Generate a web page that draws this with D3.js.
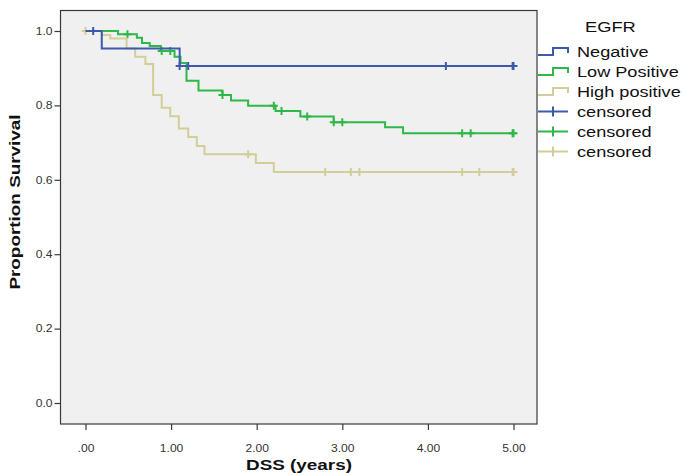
<!DOCTYPE html>
<html>
<head>
<meta charset="utf-8">
<script src="https://cdn.jsdelivr.net/npm/d3@7"></script>
<style>
  html, body { margin: 0; padding: 0; background: #ffffff; }
  svg { display: block; }
  text { font-family: "Liberation Sans", Arial, sans-serif; }
</style>
</head>
<body>
<svg id="chart" width="684" height="473"></svg>
<script>
// ---- data ----
const groups = ["Negative", "Low Positive", "High positive"];
const legendTitle = "EGFR";
const censorLabel = "censored";

// step functions: [time (years), proportion surviving after the event]
const negativeSteps = [[0, 1.0], [0.19, 0.953], [1.10, 0.906]];
const negativeCensored = [0.09, 1.10, 1.20, 4.21, 4.99, 5.0];

const lowSteps = [[0, 1.0], [0.38, 0.991], [0.60, 0.982], [0.66, 0.968], [0.75, 0.960],
  [0.88, 0.946], [1.04, 0.931], [1.11, 0.914], [1.18, 0.866], [1.32, 0.840],
  [1.60, 0.828], [1.70, 0.813], [1.90, 0.799], [2.22, 0.785], [2.51, 0.770],
  [2.90, 0.755], [3.50, 0.741], [3.71, 0.725]];
const lowCensored = [0.49, 0.89, 0.99, 1.60, 2.20, 2.29, 2.59, 2.90, 3.00, 4.40, 4.50, 4.99, 5.0];

const highSteps = [[0, 1.0], [0.19, 0.989], [0.29, 0.980], [0.48, 0.953], [0.58, 0.931],
  [0.70, 0.911], [0.79, 0.828], [0.89, 0.794], [0.99, 0.771], [1.09, 0.738],
  [1.20, 0.715], [1.30, 0.691], [1.39, 0.669], [1.99, 0.645], [2.20, 0.621]];
const highCensored = [0.0, 1.90, 2.80, 3.10, 3.20, 4.40, 4.60, 4.99, 5.0];

const xTickValues = [0, 1, 2, 3, 4, 5];
const xTickLabels = [".00", "1.00", "2.00", "3.00", "4.00", "5.00"];
const yTickValues = [0, 0.2, 0.4, 0.6, 0.8, 1.0];
const yTickLabels = ["0.0", "0.2", "0.4", "0.6", "0.8", "1.0"];

const xTitle = "DSS (years)";
const yTitle = "Proportion Survival";

const colors = ["#3E58AC", "#2EB848", "#D3CE97"];

// ---- layout ----
const frame = { left: 60.5, top: 10.5, right: 537, bottom: 424 };
const svg = d3.select("#chart");

const x = d3.scaleLinear().domain([0, 5]).range([85.5, 513.5]);
const y = d3.scaleLinear().domain([0, 1]).range([403, 31]);

svg.append("rect")
  .attr("x", frame.left).attr("y", frame.top)
  .attr("width", frame.right - frame.left).attr("height", frame.bottom - frame.top)
  .attr("fill", "#F0F0F0").attr("stroke", "#3a3a3a").attr("stroke-width", 1.2);

// axes
const xAxis = d3.axisBottom(x).tickValues(xTickValues)
  .tickFormat((d, i) => xTickLabels[i]).tickSize(6).tickPadding(15);
const gx = svg.append("g").attr("transform", `translate(0,${frame.bottom})`).call(xAxis);
gx.select(".domain").remove();
gx.selectAll("line").attr("stroke", "#3a3a3a").attr("stroke-width", 1.2);
gx.selectAll("text").attr("font-size", "10.5px").attr("fill", "#333")
  .attr("font-family", "'Liberation Sans', Arial, sans-serif")
  .attr("transform", "scale(1.15,1)");

const yAxis = d3.axisLeft(y).tickValues(yTickValues)
  .tickFormat((d, i) => yTickLabels[i]).tickSize(6).tickPadding(1);
const gy = svg.append("g").attr("transform", `translate(${frame.left},0)`).call(yAxis);
gy.select(".domain").remove();
gy.selectAll("line").attr("stroke", "#3a3a3a").attr("stroke-width", 1.2);
gy.selectAll("text").attr("font-size", "10.5px").attr("fill", "#333")
  .attr("font-family", "'Liberation Sans', Arial, sans-serif")
  .attr("transform", "scale(1.15,1)");

// titles
svg.append("text")
  .attr("transform", "translate(299,470) scale(1.22,1)")
  .attr("text-anchor", "middle").attr("font-weight", "bold")
  .attr("font-size", "15.5px").attr("fill", "#111").text(xTitle);
svg.append("text")
  .attr("transform", "translate(19.5,202) rotate(-90) scale(1.22,1)")
  .attr("text-anchor", "middle").attr("font-weight", "bold")
  .attr("font-size", "15.5px").attr("fill", "#111").text(yTitle);

// curves
function survivalAt(steps, t) {
  let s = steps[0][1];
  for (const st of steps) { if (st[0] <= t + 1e-9) s = st[1]; }
  return s;
}
const series = [
  { steps: lowSteps, cens: lowCensored, color: colors[1] },
  { steps: highSteps, cens: highCensored, color: colors[2] },
  { steps: negativeSteps, cens: negativeCensored, color: colors[0] }
];
const line = d3.line().x(d => x(d[0])).y(d => y(d[1])).curve(d3.curveStepAfter);
const arm = 4;
series.forEach(sr => {
  const end = d3.max(sr.cens);
  const pts = sr.steps.concat([[end, sr.steps[sr.steps.length - 1][1]]]);
  const g = svg.append("g");
  g.append("path").attr("d", line(pts)).attr("fill", "none")
    .attr("stroke", sr.color).attr("stroke-width", 2);
  g.selectAll("path.c").data(sr.cens).enter().append("path").attr("class", "c")
    .attr("d", t => {
      const cx = x(t), cy = y(survivalAt(sr.steps, t));
      return `M${cx - arm},${cy}H${cx + arm}M${cx},${cy - arm}V${cy + arm}`;
    })
    .attr("fill", "none").attr("stroke", sr.color).attr("stroke-width", 2);
});

// legend
const lg = svg.append("g");
lg.append("text").attr("transform", "translate(585,31.5) scale(1.22,1)")
  .attr("font-size", "15px").attr("fill", "#111").text(legendTitle);
const legendItems = groups.map((g, i) => ({ label: g, color: colors[i], type: "step" }))
  .concat(groups.map((g, i) => ({ label: censorLabel, color: colors[i], type: "cens" })));
legendItems.forEach((it, i) => {
  const base = 57 + i * 20;
  if (it.type === "step") {
    lg.append("path").attr("d", `M538,${base - 2}H553V${base - 9}H568V${base - 4}`)
      .attr("fill", "none").attr("stroke", it.color).attr("stroke-width", 2);
  } else {
    const cy = base - 5.5;
    lg.append("path").attr("d", `M538,${cy}H568M553,${cy - 5}V${cy + 5}`)
      .attr("fill", "none").attr("stroke", it.color).attr("stroke-width", 2);
  }
  lg.append("text").attr("transform", `translate(577,${base}) scale(1.21,1)`)
    .attr("font-size", "15px").attr("fill", "#111").text(it.label);
});
</script>
</body>
</html>
